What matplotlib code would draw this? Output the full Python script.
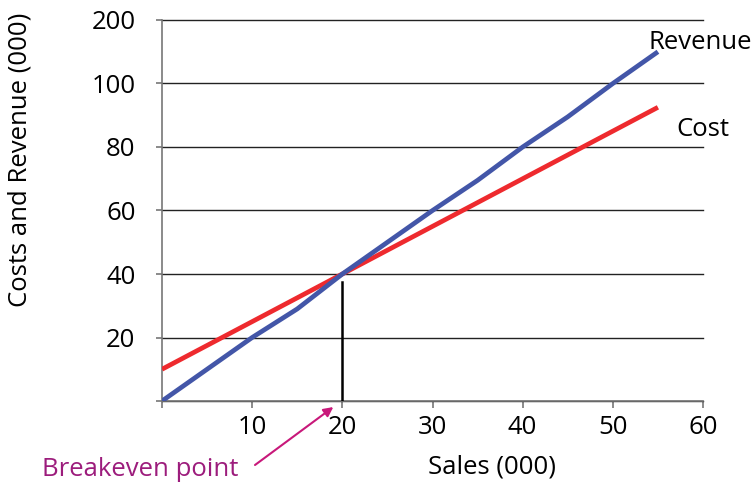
import matplotlib.pyplot as plt

plt.rcParams['font.family'] = ['Open Sans', 'DejaVu Sans']

# Sales in thousands, sampled every 5
sales = [0, 5, 10, 15, 20, 25, 30, 35, 40, 45, 50, 55]
revenue = [0, 10, 20, 29, 40, 50, 60, 69.5, 80, 89.5, 100, 110]
cost = [10, 17.5, 25, 32.5, 40, 47.5, 55, 62.5, 70, 77.5, 85, 92.5]

breakeven_x = 20
breakeven_top = 37.5

x_ticks = [0, 10, 20, 30, 40, 50, 60]
x_labels = ['', '10', '20', '30', '40', '50', '60']
y_ticks = [0, 20, 40, 60, 80, 100, 120]
y_labels = ['', '20', '40', '60', '80', '100', '200']

fs = 18.5

fig = plt.figure(figsize=(7.52, 4.86), dpi=100)
ax = fig.add_axes([162 / 752, 1 - 401 / 486, 541 / 752, 381 / 486])

ax.plot(sales, cost, color='#EE2A2E', lw=3.4, solid_capstyle='butt', zorder=3)
ax.plot(sales, revenue, color='#4356A8', lw=3.4, solid_capstyle='butt', zorder=4)
ax.plot([breakeven_x, breakeven_x], [0, breakeven_top], color='black', lw=1.8, zorder=5)

ax.set_xlim(0, 60)
ax.set_ylim(0, 120)
ax.set_xticks(x_ticks)
ax.set_xticklabels(x_labels)
ax.set_yticks(y_ticks)
ax.set_yticklabels(y_labels)

for s in ['top', 'right']:
    ax.spines[s].set_visible(False)
for s in ['left', 'bottom']:
    ax.spines[s].set_color('#777777')
    ax.spines[s].set_linewidth(1.2)

ax.yaxis.grid(True, color='#222222', lw=1.0)
for gl in ax.get_ygridlines():
    gl.set_clip_on(False)
ax.set_axisbelow(True)

ax.tick_params(axis='y', direction='out', length=4, width=1.2, color='#777777',
               labelsize=fs, pad=15)
ax.tick_params(axis='x', direction='out', length=5, width=1.2, color='#777777',
               labelsize=fs, pad=5)

ax.text(54, 113, 'Revenue', fontsize=fs, ha='left', va='center')
ax.text(57, 85.5, 'Cost', fontsize=fs, ha='left', va='center')

fig.text(20 / 752, 1 - 160 / 486, 'Costs and Revenue (000)', rotation=90,
         fontsize=fs, ha='center', va='center')
fig.text(492 / 752, 1 - 467 / 486, 'Sales (000)', fontsize=fs, ha='center', va='center')
fig.text(140 / 752, 1 - 469 / 486, 'Breakeven point', fontsize=fs,
         color='#9C1C7C', ha='center', va='center')

ax.annotate('', xy=(19, -1.9), xycoords='data',
            xytext=(255, 486 - 465), textcoords='figure pixels',
            arrowprops=dict(arrowstyle='-|>', color='#C8187A', lw=1.5,
                            mutation_scale=14, shrinkA=0, shrinkB=0),
            annotation_clip=False)

fig.savefig('out.png', dpi=100)
